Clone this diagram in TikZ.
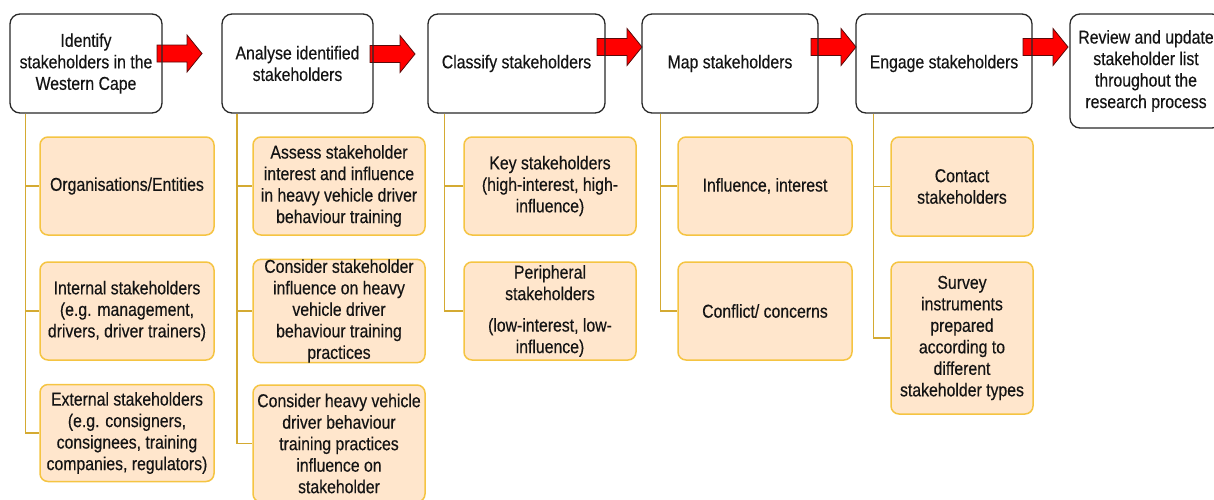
\documentclass[tikz,border=0pt]{standalone}
\usepackage{fontspec}
\setmainfont{Liberation Sans}[FakeStretch=0.85, FakeBold=0.35]
\usetikzlibrary{positioning,calc}

\definecolor{subfill}{RGB}{255,230,204}
\definecolor{subline}{RGB}{245,196,66}
\definecolor{connline}{RGB}{212,170,50}
\definecolor{stepline}{RGB}{40,40,40}
\definecolor{inktext}{RGB}{20,20,20}
\definecolor{arrowred}{RGB}{255,0,0}
\definecolor{arrowedge}{RGB}{90,10,10}

\tikzset{
  basetext/.style={font=\fontsize{18.6}{21.5}\selectfont, text=inktext, align=center, inner sep=0pt},
  stepbox/.style={basetext, draw=stepline, line width=1.3pt, rounded corners=10pt},
  subbox/.style={basetext, draw=subline, fill=subfill, line width=1.5pt, rounded corners=8pt},
  conn/.style={draw=connline, line width=1.5pt},
  blockarr/.style={fill=arrowred, draw=arrowedge, line width=0.8pt, line join=miter},
}

% red block arrow: #1 = left end x, #2 = centre y
\newcommand\redblockarrow[2]{%
  \draw[blockarr] (#1,#2-8.5) -- ++(30,0) -- ++(0,-10) -- ++(15,18.5)
    -- ++(-15,18.5) -- ++(0,-10) -- ++(-30,0) -- cycle;}

\begin{document}
\begin{tikzpicture}[x=1pt,y=-1pt]
\useasboundingbox (0,0) rectangle (1214,499);

% block arrows between the steps (drawn first, the step outlines lie over them)
\redblockarrow{157}{53.5}
\redblockarrow{370}{54}
\redblockarrow{597}{47}
\redblockarrow{811}{47}
\redblockarrow{1023}{47}

% main steps
\node[stepbox, minimum width=152pt, minimum height=99pt] (b1) at (86,63.5)
  {Identify\\stakeholders in the\\Western Cape};
\node[stepbox, minimum width=151pt, minimum height=99pt] (b2) at (297.5,63.5)
  {Analyse identified\\stakeholders};
\node[stepbox, minimum width=177pt, minimum height=99pt] (b3) at (516.5,63.5)
  {Classify stakeholders};
\node[stepbox, minimum width=176pt, minimum height=99pt] (b4) at (730,63.5)
  {Map stakeholders};
\node[stepbox, minimum width=176pt, minimum height=99pt] (b5) at (944,63.5)
  {Engage stakeholders};
\node[stepbox, minimum width=152pt, minimum height=114pt] (b6) at (1146,71)
  {Review and update\\stakeholder list\\throughout the\\research process};

% column 1
\node[subbox, minimum width=174pt, minimum height=98pt] (s11) at (127,186)
  {Organisations/Entities};
\node[subbox, minimum width=174pt, minimum height=98pt] (s12) at (127,311)
  {Internal stakeholders\\(e.g. management,\\drivers, driver trainers)};
\node[subbox, minimum width=174pt, minimum height=97pt] (s13) at (127,433)
  {External stakeholders\\(e.g. consigners,\\consignees, training\\companies, regulators)};

% column 2
\node[subbox, minimum width=172pt, minimum height=98pt] (s21) at (339,186)
  {Assess stakeholder\\interest and influence\\in heavy vehicle driver\\behaviour training};
\node[subbox, minimum width=172pt, minimum height=98pt] (s22) at (339,311)
  {Consider stakeholder\\influence on heavy\\vehicle driver\\behaviour training\\practices};
\node[subbox, minimum width=172pt, minimum height=117pt] (s23) at (339,443.5)
  {Consider heavy vehicle\\driver behaviour\\training practices\\influence on\\stakeholder};

% column 3
\node[subbox, minimum width=172pt, minimum height=98pt] (s31) at (550,186)
  {Key stakeholders\\(high-interest, high-\\influence)};
\node[subbox, minimum width=172pt, minimum height=98pt] (s32) at (550,311)
  {Peripheral\\stakeholders\\[10pt](low-interest, low-\\influence)};

% column 4
\node[subbox, minimum width=174pt, minimum height=98pt] (s41) at (765,186)
  {Influence, interest};
\node[subbox, minimum width=174pt, minimum height=98pt] (s42) at (765,311)
  {Conflict/ concerns};

% column 5
\node[subbox, minimum width=142pt, minimum height=99pt] (s51) at (962,186.5)
  {Contact\\stakeholders};
\node[subbox, minimum width=142pt, minimum height=152pt] (s52) at (962,338)
  {Survey\\instruments\\prepared\\according to\\different\\stakeholder types};

% trunk points under each step
\coordinate (t1) at ([xshift=16pt]b1.south west);
\coordinate (t2) at ([xshift=15.5pt]b2.south west);
\coordinate (t3) at ([xshift=17pt]b3.south west);
\coordinate (t4) at ([xshift=19pt]b4.south west);
\coordinate (t5) at ([xshift=18pt]b5.south west);

% connectors from each step to its sub-items
\draw[conn] (t1) |- (s11.west);
\draw[conn] (t1) |- (s12.west);
\draw[conn] (t1) |- (s13.west);
\draw[conn] (t2) |- (s21.west);
\draw[conn] (t2) |- (s22.west);
\draw[conn] (t2) |- (s23.west);
\draw[conn] (t3) |- (s31.west);
\draw[conn] (t3) |- (s32.west);
\draw[conn] (t4) |- (s41.west);
\draw[conn] (t4) |- (s42.west);
\draw[conn] (t5) |- (s51.west);
\draw[conn] (t5) |- (s52.west);
\end{tikzpicture}
\end{document}
